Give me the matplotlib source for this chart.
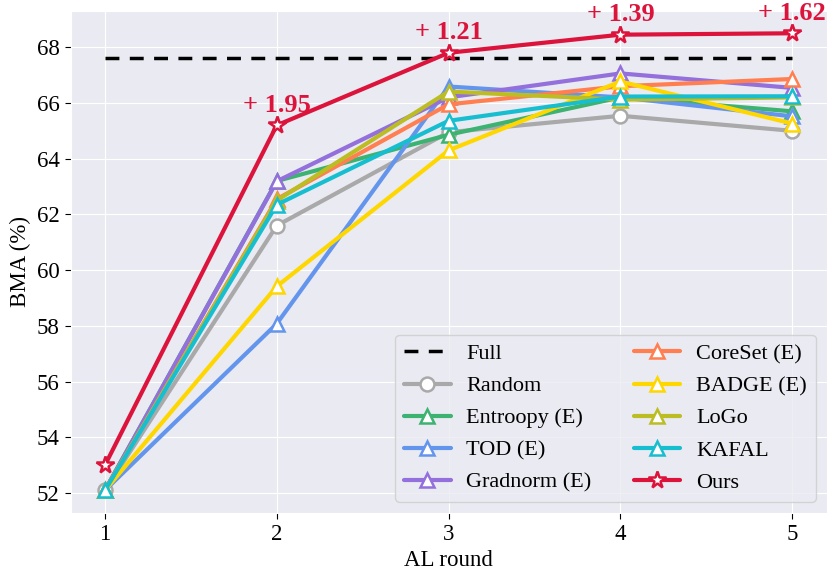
import matplotlib
matplotlib.use("Agg")
import matplotlib.pyplot as plt
import seaborn as sns
import numpy as np

rounds = [1, 2, 3, 4, 5]
full = 67.63

random_acc = [52.1, 61.6, 64.95, 65.54, 65.0]
entropy_acc = [52.1, 63.2, 64.86, 66.2, 65.7]
tod_acc = [52.1, 58.08, 66.59, 66.2, 65.52]
gradnorm_acc = [52.1, 63.19, 66.2, 67.06, 66.54]
coreset_acc = [52.1, 62.55, 65.95, 66.6, 66.86]
badge_acc = [52.1, 59.42, 64.3, 66.77, 65.26]
logo_acc = [52.1, 62.5, 66.41, 66.12, 66.2]
kafal_acc = [52.1, 62.35, 65.36, 66.23, 66.24]
ours_acc = [53.0, 65.2, 67.8, 68.45, 68.5]
gains = ["+ 1.95", "+ 1.21", "+ 1.39", "+ 1.62"]

sns.set_style("darkgrid")
plt.rcParams['font.family'] = ['Liberation Serif', 'DejaVu Serif']
plt.rcParams['xtick.bottom'] = True
plt.rcParams['ytick.left'] = True
plt.rcParams['xtick.major.size'] = 4.5
plt.rcParams['ytick.major.size'] = 4.5
plt.rcParams['xtick.color'] = 'black'
plt.rcParams['ytick.color'] = 'black'
plt.rcParams['text.color'] = 'black'
plt.rcParams['axes.labelcolor'] = 'black'

fig, ax = plt.subplots(figsize=(8.3, 5.78), dpi=100)
fig.subplots_adjust(left=0.085, right=0.996, top=0.981, bottom=0.113)

ax.plot(rounds, [full] * len(rounds), ls='--', color='black', lw=2.5, label='Full', dashes=(4, 3))

series = [
    ("Random", random_acc, "#A9A9A9", "o"),
    ("Entroopy (E)", entropy_acc, "#3CB371", "^"),
    ("TOD (E)", tod_acc, "#6495ED", "^"),
    ("Gradnorm (E)", gradnorm_acc, "#9370DB", "^"),
    ("CoreSet (E)", coreset_acc, "#FF7F50", "^"),
    ("BADGE (E)", badge_acc, "#FFD700", "^"),
    ("LoGo", logo_acc, "#BCBD22", "^"),
    ("KAFAL", kafal_acc, "#17BECF", "^"),
    ("Ours", ours_acc, "#DC143C", "*"),
]
for name, vals, col, mk in series:
    ms = 13 if mk == "*" else 10
    ax.plot(rounds, vals, color=col, lw=3, marker=mk, markersize=ms,
            markerfacecolor='white', markeredgecolor=col, markeredgewidth=1.8,
            label=name)

for x, y, g in zip(rounds[1:], ours_acc[1:], gains):
    ax.text(x, y + 0.3, g, color="#DC143C", fontsize=19, fontweight='bold',
            ha='center', va='bottom')

ax.set_xlim(0.8, 5.2)
ax.set_ylim(51.3, 69.3)
ax.set_xticks(rounds)
ax.set_yticks(np.arange(52, 69, 2))
ax.tick_params(labelsize=16.5)
ax.set_xlabel("AL round", fontsize=16.5)
ax.set_ylabel("BMA (%)", fontsize=16.5)

leg = ax.legend(ncol=2, loc='lower right', fontsize=16, frameon=True,
                facecolor='#EAEAF2', edgecolor='#CCCCCC', framealpha=0.8,
                handlelength=2.1, handletextpad=0.7, columnspacing=1.9,
                labelspacing=0.52, borderaxespad=0.5)

fig.savefig("out.png", dpi=100)
